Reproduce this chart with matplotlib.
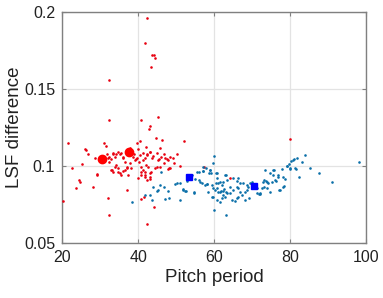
import matplotlib
matplotlib.use("Agg")
import matplotlib.pyplot as plt

plt.rcParams['font.family'] = ['Liberation Sans', 'DejaVu Sans']

# Red class (small points): pitch period, LSF difference
red_x = [42.4, 41.7, 43.6, 44.2, 44.4, 43.3, 32.3, 32.4, 40.8, 45.2, 43.2, 42.8,
         44.7, 46.4, 52.1, 40.6, 39.8, 31.0, 31.5, 21.5, 26.1, 37.9, 42.0, 45.8,
         26.2, 26.9, 28.7, 31.8, 32.4, 33.3, 33.9, 34.7, 35.3, 36.1, 38.8, 40.1,
         40.5, 39.5, 41.4, 42.3, 43.2, 44.0, 44.9, 45.6, 46.8, 47.7, 48.4, 50.2,
         49.5, 46.7, 47.8, 44.9, 42.7, 41.8, 43.2, 40.8, 41.7, 43.2, 37.0, 36.0,
         34.8, 33.3, 33.9, 37.9, 36.6, 25.3, 22.6, 29.2, 24.4, 24.8, 23.6, 28.2,
         32.2, 37.1, 32.4, 42.4, 40.7, 44.3, 20.2, 41.6, 57.4, 64.2, 51.1, 48.2,
         80.0, 33.0, 35.2, 37.4, 40.9,
         32.1, 32.8, 33.4, 34.3, 35.6, 36.1, 38.7, 39.1, 39.6, 41.3, 41.8, 42.4,
         43.1, 43.7, 45.3, 46.1, 47.0, 47.9, 49.2, 32.3, 34.3, 33.2, 34.7, 35.6,
         36.5, 37.2, 38.2, 40.2, 40.9, 41.3, 41.8, 43.1, 43.5, 44.4, 42.2, 45.7,
         48.3, 29.3, 40.0, 42.4]
red_y = [0.196, 0.180, 0.172, 0.172, 0.170, 0.164, 0.156, 0.130, 0.130, 0.132, 0.126, 0.124,
         0.118, 0.117, 0.116, 0.116, 0.1147, 0.115, 0.113, 0.115, 0.111, 0.1115, 0.112, 0.1115,
         0.110, 0.1076, 0.1054, 0.108, 0.1057, 0.108, 0.106, 0.1087, 0.1074, 0.106, 0.108, 0.111,
         0.107, 0.1043, 0.1039, 0.108, 0.1093, 0.1065, 0.1086, 0.1043, 0.1076, 0.1043, 0.106, 0.108,
         0.1017, 0.1017, 0.0979, 0.0995, 0.0992, 0.0963, 0.0953, 0.0963, 0.093, 0.0914, 0.0985, 0.097,
         0.0985, 0.0963, 0.0994, 0.1021, 0.1028, 0.1011, 0.0989, 0.0946, 0.0909, 0.0896, 0.0859, 0.0862,
         0.0792, 0.0844, 0.0682, 0.0621, 0.0786, 0.0732, 0.0771, 0.0800, 0.099, 0.0924, 0.1002, 0.0985,
         0.1173, 0.0974, 0.0953, 0.0942, 0.0942,
         0.1054, 0.1045, 0.1083, 0.1078, 0.1083, 0.1050, 0.1060, 0.1039, 0.1054, 0.1083, 0.1050, 0.1071,
         0.1093, 0.1054, 0.1039, 0.1060, 0.1050, 0.1039, 0.1050, 0.1024, 0.1006, 0.0974, 0.0959, 0.0942,
         0.0974, 0.0995, 0.0985, 0.1024, 0.0995, 0.0974, 0.0942, 0.0931, 0.0963, 0.0985, 0.1006, 0.0995,
         0.0985, 0.0942, 0.0920, 0.0909]

# Blue class (small points)
blue_x = [60.0, 59.8, 51.0, 51.8, 52.4, 54.7, 52.8, 54.1, 55.6, 57.0, 58.8, 59.2,
          56.3, 56.8, 57.6, 58.2, 59.4, 60.5, 60.7, 61.0, 61.6, 62.4, 63.2, 63.3,
          60.1, 63.1, 58.5, 59.4, 60.3, 60.7, 61.1, 61.8, 62.4, 63.0, 59.8, 61.6,
          62.3, 63.3, 64.2, 64.7, 65.5, 65.1, 66.0, 66.4, 66.8, 67.7, 67.3, 68.2,
          68.6, 69.0, 69.5, 69.3, 69.9, 71.2, 72.1, 71.7, 72.8, 73.2, 73.7, 74.3,
          74.7, 75.2, 76.3, 77.2, 76.8, 78.1, 78.7, 77.8, 73.4, 74.6, 75.8, 79.1,
          79.8, 80.2, 80.7, 81.1, 81.9, 81.2, 81.6, 83.1, 84.0, 80.0, 82.4, 85.1,
          87.5, 91.1, 98.0, 65.1, 65.9, 66.8, 58.9, 58.0, 57.2, 50.2, 49.6, 51.1,
          51.8, 52.6, 48.0, 45.8, 45.3, 44.0, 43.2, 41.8, 43.6, 47.1, 48.2, 38.3,
          46.0, 46.9, 44.9,
          55.9, 57.2, 58.7, 60.7, 62.9, 66.4, 68.6, 73.0, 73.9, 75.6, 76.1, 75.6,
          72.6, 73.9, 71.2, 72.1, 55.9, 58.1, 60.4, 62.0, 62.7, 59.8, 61.6, 64.2,
          66.0, 68.2, 66.4, 62.9, 62.0, 60.7, 54.8, 55.0, 79.3, 80.0, 76.9, 78.2,
          78.4, 77.4]
blue_y = [0.1065, 0.1017, 0.078, 0.0844, 0.0840, 0.0833, 0.0905, 0.0942, 0.0963, 0.097, 0.0974, 0.0953,
          0.0898, 0.0892, 0.0877, 0.0881, 0.0877, 0.0953, 0.092, 0.0887, 0.0898, 0.0898, 0.0942, 0.0909,
          0.0714, 0.0682, 0.0833, 0.080, 0.0844, 0.0855, 0.0833, 0.0838, 0.0840, 0.0833, 0.0797, 0.0768,
          0.0812, 0.0823, 0.0866, 0.0779, 0.0775, 0.0844, 0.079, 0.0855, 0.0833, 0.0892, 0.0812, 0.0779,
          0.0844, 0.0866, 0.0888, 0.079, 0.0898, 0.0855, 0.0818, 0.0820, 0.0898, 0.0866, 0.0905, 0.0888,
          0.0833, 0.0898, 0.0903, 0.0844, 0.0931, 0.0866, 0.0914, 0.0979, 0.0974, 0.0957, 0.0974, 0.100,
          0.1013, 0.1034, 0.1039, 0.1043, 0.105, 0.0985, 0.0980, 0.1028, 0.1071, 0.098, 0.0926, 0.0989,
          0.0957, 0.0898, 0.1024, 0.092, 0.0905, 0.0888, 0.0974, 0.0985, 0.0992, 0.0888, 0.0885, 0.0892,
          0.0849, 0.0840, 0.084, 0.0877, 0.0844, 0.0866, 0.0812, 0.0812, 0.0779, 0.0783, 0.079, 0.0768,
          0.0963, 0.0866, 0.0838,
          0.0963, 0.0968, 0.0957, 0.0953, 0.0942, 0.0920, 0.0877, 0.0909, 0.0898, 0.0942, 0.0909, 0.0974,
          0.0855, 0.0855, 0.0823, 0.0823, 0.0909, 0.0883, 0.0892, 0.0877, 0.0849, 0.0855, 0.0833, 0.0823,
          0.0862, 0.0833, 0.0800, 0.0800, 0.0790, 0.0779, 0.0827, 0.0914, 0.1000, 0.0985, 0.0942, 0.0926,
          0.0872, 0.0844]

# Class centres
red_cx = [30.5, 37.6]
red_cy = [0.1047, 0.109]
blue_cx = [53.5, 70.5]
blue_cy = [0.0926, 0.087]

fig = plt.figure(figsize=(3.83, 2.98), dpi=100)
ax = fig.add_axes([0.162, 0.185, 0.794, 0.775])

ax.scatter(red_x, red_y, s=3.5, color='#e80010', linewidths=0, zorder=3)
ax.scatter(blue_x, blue_y, s=3.5, color='#0a6fa8', linewidths=0, zorder=3)
ax.plot(red_cx, red_cy, 'o', color='red', markersize=6, zorder=4)
ax.plot(blue_cx, blue_cy, 's', color='blue', markersize=4.5, zorder=4)

ax.set_xlim(20, 100)
ax.set_ylim(0.05, 0.2)
ax.set_xticks([20, 40, 60, 80, 100])
ax.set_yticks([0.05, 0.1, 0.15, 0.2])
ax.set_yticklabels(['0.05', '0.1', '0.15', '0.2'])
ax.grid(True, color='#e3e3e3', linewidth=0.9)
ax.set_axisbelow(True)
for sp in ax.spines.values():
    sp.set_color('#808080')
    sp.set_linewidth(1.0)
ax.tick_params(direction='in', length=3, width=0.8, color='#808080',
               labelsize=11.5, labelcolor='#222222', top=True, right=True)
ax.tick_params(axis='x', pad=5)
ax.tick_params(axis='y', pad=5)
ax.set_xlabel('Pitch period', fontsize=13.5, color='#222222', labelpad=3)
ax.set_ylabel('LSF difference', fontsize=13.5, color='#222222', labelpad=1)

fig.savefig('out.png', dpi=100)
